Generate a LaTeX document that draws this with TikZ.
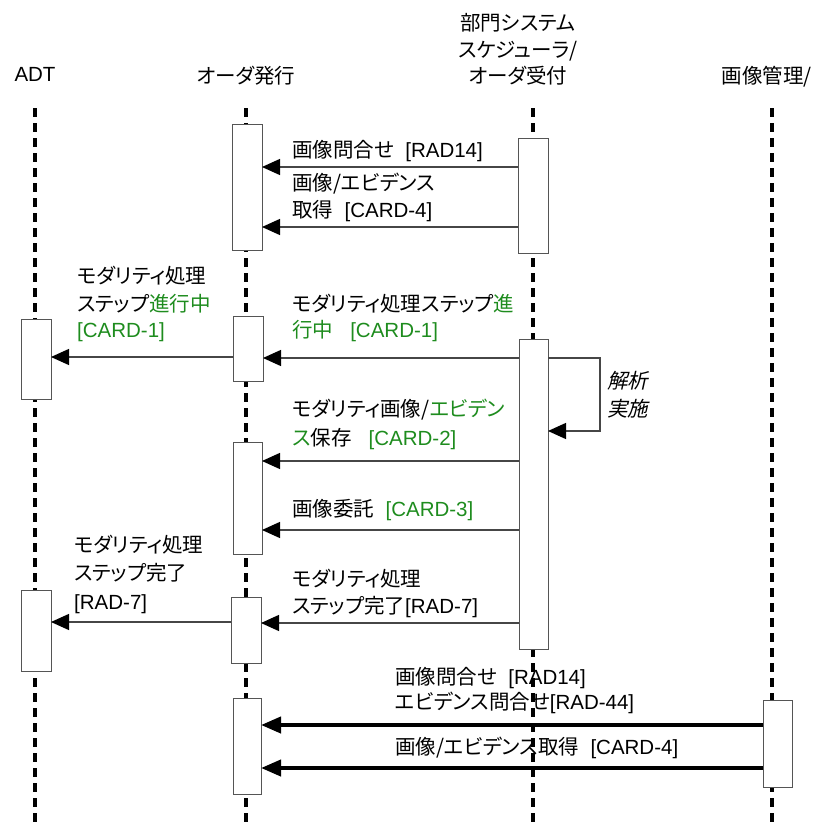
\documentclass[tikz,border=0pt]{standalone}
\usepackage{fontspec}
\setmainfont{Liberation Sans}
\newfontfamily\jpf[RawFeature=+palt]{Noto Sans CJK JP}
\newfontfamily\jpi[RawFeature=+palt,FakeSlant=0.22]{Noto Sans CJK JP}
\usetikzlibrary{arrows.meta}
\definecolor{gr}{RGB}{30,140,30}
\definecolor{bx}{RGB}{85,85,85}
\definecolor{ln}{RGB}{70,70,70}
\newcommand\J[1]{{\jpf #1}}
\newcommand\Gn[1]{\textcolor{gr}{#1}}
\begin{document}
\begin{tikzpicture}[x=1pt,y=-1pt,
  life/.style={line width=3.2pt, dash pattern=on 9pt off 6pt},
  act/.style={draw=bx, fill=white, line width=1pt, inner sep=0pt, outer sep=0pt, anchor=north west},
  msg/.style={draw=ln, line width=1.3pt, -{Triangle[length=18pt,width=16pt,color=black]}},
  bmsg/.style={draw=black, line width=4pt, -{Triangle[length=20pt,width=16pt]}},
  lbl/.style={anchor=base west, inner sep=0pt, font=\fontsize{20.5}{26}\selectfont},
  hdr/.style={anchor=base, inner sep=0pt, font=\fontsize{20.5}{26}\selectfont}]
\path[use as bounding box] (0,0) rectangle (820,827);

% headers
\node[hdr] (hADT) at (35,81) {ADT};
\node[hdr] (hOrd) at (246,83) {\J{オーダ発行}};
\node[hdr] (hDep1) at (518,30) {\J{部門システム}};
\node[hdr] (hDep2) at (518,57) {\J{スケジューラ/}};
\node[hdr] (hDep3) at (518,83) {\J{オーダ受付}};
\node[hdr] (hImg) at (767,83) {\J{画像管理/}};

% lifelines
\coordinate (adtT) at (35,108);  \coordinate (adtB) at (35,827);
\coordinate (ordT) at (246,108); \coordinate (ordB) at (246,827);
\coordinate (depT) at (533,108); \coordinate (depB) at (533,827);
\coordinate (imgT) at (772,108); \coordinate (imgB) at (772,827);
\draw[life] (adtT) -- (adtB);
\draw[life] (ordT) -- (ordB);
\draw[life] (depT) -- (depB);
\draw[life] (imgT) -- (imgB);

% activation boxes
\node[act, minimum width=30pt, minimum height=126pt] (o1) at (232,124) {};
\node[act, minimum width=30pt, minimum height=115pt] (b1) at (518,138) {};
\node[act, minimum width=30pt, minimum height=80pt]  (a1) at (21,319) {};
\node[act, minimum width=30pt, minimum height=65pt]  (o2) at (233,316) {};
\node[act, minimum width=29pt, minimum height=310pt] (b2) at (519,339) {};
\node[act, minimum width=29pt, minimum height=112pt] (o3) at (233,442) {};
\node[act, minimum width=30pt, minimum height=81pt]  (a2) at (21,590) {};
\node[act, minimum width=30pt, minimum height=66pt]  (o4) at (231,597) {};
\node[act, minimum width=28pt, minimum height=96pt]  (o5) at (233,698) {};
\node[act, minimum width=29pt, minimum height=87pt]  (g1) at (763,700) {};

% messages
\draw[msg] (b1.west |- 0,167) -- (o1.east |- 0,167);
\draw[msg] (b1.west |- 0,227) -- (o1.east |- 0,227);
\draw[msg] (b2.west |- 0,358) -- (o2.east |- 0,358);
\draw[msg] (o2.west |- 0,357) -- (a1.east |- 0,357);
\coordinate (s1) at (600,358);
\coordinate (s2) at (600,431);
\draw[msg] (b2.east |- 0,358) -- (s1) -- (s2) -- (b2.east |- 0,431);
\draw[msg] (b2.west |- 0,461) -- (o3.east |- 0,461);
\draw[msg] (b2.west |- 0,530) -- (o3.east |- 0,530);
\draw[msg] (b2.west |- 0,623) -- (o4.east |- 0,623);
\draw[msg] (o4.west |- 0,622) -- (a2.east |- 0,622);
\draw[bmsg] (g1.west |- 0,725) -- (o5.east |- 0,725);
\draw[bmsg] (g1.west |- 0,768) -- (o5.east |- 0,768);

% labels
\node[lbl] (t1) at (292,157) {\J{画像問合せ}\ \ [RAD14]};
\node[lbl] (t2a) at (292,190) {\J{画像/エビデンス}};
\node[lbl] (t2b) at (292,217) {\J{取得}\ \ [CARD-4]};
\node[lbl] (t3a) at (77,283) {\J{モダリティ処理}};
\node[lbl] (t3b) at (77,311) {\J{ステップ\Gn{進行中}}};
\node[lbl] (t3c) at (77,337) {\Gn{[CARD-1]}};
\node[lbl] (t4a) at (292,311) {\J{モダリティ処理ステップ\Gn{進}}};
\node[lbl] (t4b) at (292,337) {\Gn{\J{行中}\ \ \ [CARD-1]}};
\node[lbl] (t5a) at (292,416) {\J{モダリティ画像/\Gn{エビデン}}};
\node[lbl] (t5b) at (292,445) {\J{\Gn{ス}保存}\ \ \ \Gn{[CARD-2]}};
\node[lbl] (t6) at (292,516) {\J{画像委託}\ \ \Gn{[CARD-3]}};
\node[lbl] (t7a) at (74,552) {\J{モダリティ処理}};
\node[lbl] (t7b) at (74,580) {\J{ステップ完了}};
\node[lbl] (t7c) at (74,609) {[RAD-7]};
\node[lbl] (t8a) at (292,586) {\J{モダリティ処理}};
\node[lbl] (t8b) at (292,613) {\J{ステップ完了}[RAD-7]};
\node[lbl] (t9a) at (395,684) {\J{画像問合せ}\ \ [RAD14]};
\node[lbl] (t9b) at (395,709) {\J{エビデンス問合せ}[RAD-44]};
\node[lbl] (t10) at (395,754) {\J{画像/エビデンス取得}\ \ [CARD-4]};
\node[lbl] (tsa) at (607,388) {{\jpi 解析}};
\node[lbl] (tsb) at (607,416) {{\jpi 実施}};
\end{tikzpicture}
\end{document}
